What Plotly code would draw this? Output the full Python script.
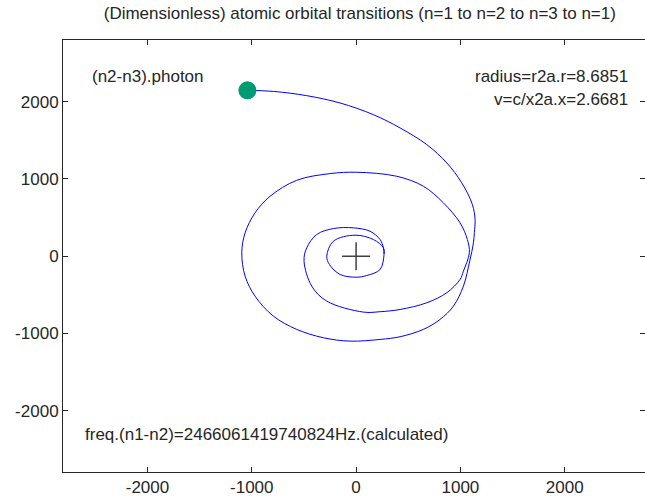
import plotly.graph_objects as go

# Traced trajectory (data coordinates)
path_x = [-1042, -793, -473, -153, 166, 422, 678, 870, 1013, 1115, 1141, 1134, 1125, 1090,
          1029, 933, 805, 645, 422, 230, -58, -314, -569, -793, -969, -1064, -1096,
          -1064, -969, -825, -569, -249, 7, 390, 645, 837, 997, 1067, 1086,
          1029, 997, 870, 678, 422, 230, 70, -281, -425, -499, -473, -377, -218, -26, 134, 230, 262,
          268, 230, 103, 0, -153, -256, -281, -218, -10, 166, 262, 268]
path_y = [2148, 2134, 2079, 1984, 1833, 1661, 1445, 1208, 950, 669, 473, 307, 173, -60,
          -388, -647, -819, -948, -1043, -1078, -1100, -1056, -948, -776, -517, -259, 44,
          303, 561, 776, 983, 1070, 1087, 1035, 906, 691, 432, 216, 44,
          -194, -301, -473, -603, -690, -719, -724, -582, -388, -65, 109, 281, 358, 367, 323, 216, 109,
          22, -172, -250, -272, -237, -107, 0, 194, 272, 216, 109, 30]

photon_x = [-1042]
photon_y = [2148]
nucleus_x = [0]
nucleus_y = [0]

title_text = "(Dimensionless) atomic orbital transitions (n=1 to n=2 to n=3 to n=1)"
label_photon = "(n2-n3).photon"
label_radius = "radius=r2a.r=8.6851"
label_v = "v=c/x2a.x=2.6681"
label_freq = "freq.(n1-n2)=2466061419740824Hz.(calculated)"

x_ticks = [-2000, -1000, 0, 1000, 2000]
y_ticks = [-2000, -1000, 0, 1000, 2000]

FONT = "Liberation Sans, Arial, sans-serif"
TXT = "#262626"

fig = go.Figure()
fig.add_trace(go.Scatter(x=path_x, y=path_y, mode="lines",
                         line=dict(color="#0000ff", width=1, shape="spline", smoothing=1.0),
                         hoverinfo="skip"))
fig.add_trace(go.Scatter(x=nucleus_x, y=nucleus_y, mode="markers",
                         marker=dict(symbol="cross-thin", size=20,
                                     line=dict(color="#404040", width=1.5))))
fig.add_trace(go.Scatter(x=photon_x, y=photon_y, mode="markers",
                         marker=dict(symbol="circle", size=18, color="rgb(0,155,115)",
                                     line=dict(width=0))))

ann_font = dict(family=FONT, size=17, color=TXT)
fig.add_annotation(x=-2550, y=2329, text=label_photon, showarrow=False,
                   xanchor="left", yanchor="middle", font=ann_font)
fig.add_annotation(x=2627, y=2329, text=label_radius, showarrow=False,
                   xanchor="right", yanchor="middle", font=ann_font)
fig.add_annotation(x=2627, y=2027, text=label_v, showarrow=False,
                   xanchor="right", yanchor="middle", font=ann_font)
fig.add_annotation(x=-2617, y=-2307, text=label_freq, showarrow=False,
                   xanchor="left", yanchor="middle", font=ann_font)

axis_common = dict(showgrid=False, zeroline=False, ticks="inside", ticklen=5,
                   tickcolor=TXT, linecolor=TXT, linewidth=1, showline=True,
                   mirror="ticks", tickfont=dict(family=FONT, size=17, color=TXT))
fig.update_xaxes(range=[-2810, 2770], tickvals=x_ticks, ticktext=[str(v) for v in x_ticks],
                 **axis_common)
fig.update_yaxes(range=[-2795, 2800], tickvals=y_ticks, ticktext=[str(v) for v in y_ticks],
                 **axis_common)

fig.update_layout(
    width=645, height=502,
    margin=dict(l=63, r=0, t=40, b=30),
    paper_bgcolor="white", plot_bgcolor="white",
    showlegend=False,
    title=dict(text=title_text, xref="paper", x=0.51, xanchor="center",
               y=1 - 13/502, yanchor="middle",
               font=dict(family=FONT, size=17, color=TXT)),
)

fig.write_html("out.html")
